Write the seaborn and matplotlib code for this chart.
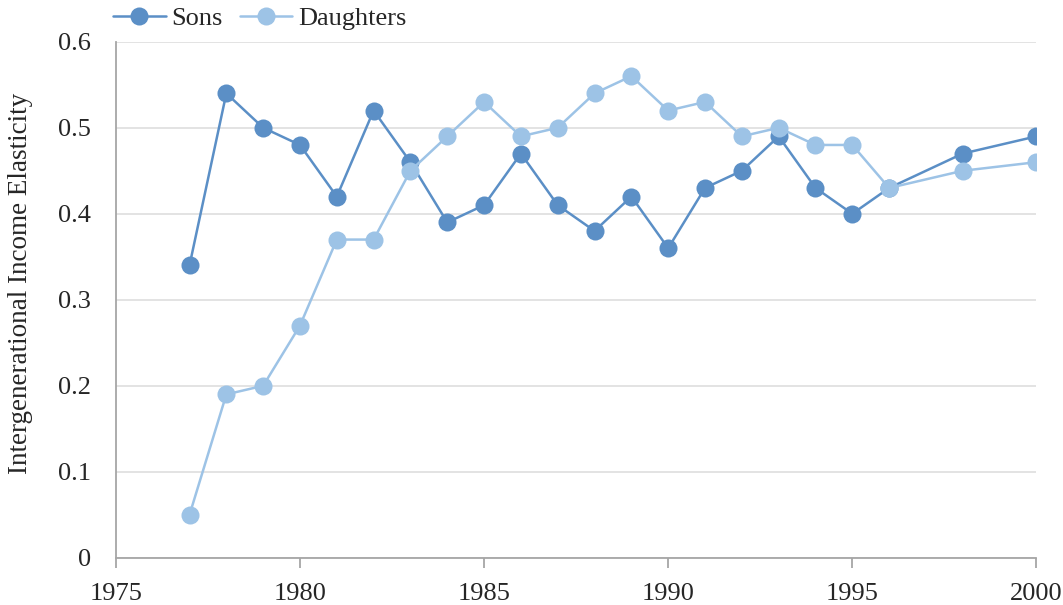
import matplotlib
matplotlib.use('Agg')
import matplotlib.pyplot as plt
import seaborn as sns
import pandas as pd

years     = [1977, 1978, 1979, 1980, 1981, 1982, 1983, 1984, 1985, 1986, 1987,
             1988, 1989, 1990, 1991, 1992, 1993, 1994, 1995, 1996, 1998, 2000]
sons      = [0.34, 0.54, 0.50, 0.48, 0.42, 0.52, 0.46, 0.39, 0.41, 0.47, 0.41,
             0.38, 0.42, 0.36, 0.43, 0.45, 0.49, 0.43, 0.40, 0.43, 0.47, 0.49]
daughters = [0.05, 0.19, 0.20, 0.27, 0.37, 0.37, 0.45, 0.49, 0.53, 0.49, 0.50,
             0.54, 0.56, 0.52, 0.53, 0.49, 0.50, 0.48, 0.48, 0.43, 0.45, 0.46]

df = pd.DataFrame({'year': years, 'Sons': sons, 'Daughters': daughters})
long = df.melt(id_vars='year', var_name='group', value_name='ige')

sns.set_theme(style='white')
plt.rcParams['font.family'] = ['Liberation Serif', 'DejaVu Serif']

fig = plt.figure(figsize=(10.63, 6.05), dpi=100)
ax = fig.add_axes([0.109, 0.078, 0.866, 0.853])

palette = {'Sons': '#5B8FC6', 'Daughters': '#9DC3E6'}
sns.lineplot(data=long, x='year', y='ige', hue='group', palette=palette,
             hue_order=['Sons', 'Daughters'],
             marker='o', markersize=13, markeredgewidth=0, linewidth=1.8,
             ax=ax)

ax.set_xlim(1975, 2000)
ax.set_ylim(0, 0.6)
ax.set_xticks(range(1975, 2001, 5))
ax.set_yticks([0, 0.1, 0.2, 0.3, 0.4, 0.5, 0.6])
ax.set_yticklabels(['0', '0.1', '0.2', '0.3', '0.4', '0.5', '0.6'])
ax.yaxis.grid(True, color='#E0E0E0', linewidth=1.3)
ax.set_axisbelow(True)
for s in ['top', 'right']:
    ax.spines[s].set_visible(False)
for s in ['left', 'bottom']:
    ax.spines[s].set_color('#A6A6A6')
    ax.spines[s].set_linewidth(1.3)
ax.tick_params(axis='x', bottom=True, length=7, width=1.3, color='#A6A6A6',
               labelsize=19, pad=11, direction='out')
ax.tick_params(axis='y', left=False, labelsize=19, pad=12)
ax.set_xlabel('')
ax.set_ylabel('Intergenerational Income Elasticity', fontsize=19.5)
ax.yaxis.set_label_coords(-0.090, 0.532)

leg = ax.legend(loc='lower left', bbox_to_anchor=(-0.003, 1.022), ncol=2,
                frameon=False, fontsize=19, handlelength=2.0,
                columnspacing=0.65, handletextpad=0.2, borderaxespad=0,
                borderpad=0)
for h in leg.legend_handles:
    h.set_markersize(13)
    h.set_markeredgewidth(0)

fig.savefig('out.png', dpi=100)
